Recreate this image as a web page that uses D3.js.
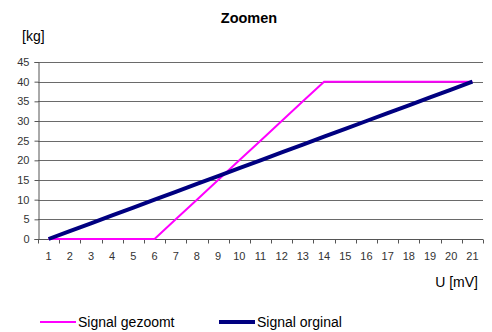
<!DOCTYPE html>
<html>
<head>
  <script src="https://d3js.org/d3.v7.min.js"></script>
  <style>
    body { margin: 0; background: #fff; font-family: Arial, 'Liberation Sans', sans-serif; }
    .grid line { stroke: #6a6a6a; stroke-width: 1px; }
  </style>
</head>
<body>
  <div id="chart"></div>
  <script>
    // data
    const categories = d3.range(1, 22); // U [mV] 1..21
    const yTicks = [0, 5, 10, 15, 20, 25, 30, 35, 40, 45];
    const zoomed = [0, 0, 0, 0, 0, 0, 5, 10, 15, 20, 25, 30, 35, 40, 40, 40, 40, 40, 40, 40, 40];
    const original = [0, 2, 4, 6, 8, 10, 12, 14, 16, 18, 20, 22, 24, 26, 28, 30, 32, 34, 36, 38, 40];

    const width = 492, height = 332;
    const margin = { top: 62, right: 9, bottom: 93, left: 38 };

    const svg = d3.select("#chart").append("svg")
      .attr("width", width)
      .attr("height", height);

    const x = d3.scaleBand()
      .domain(categories)
      .range([margin.left, width - margin.right]);

    const y = d3.scaleLinear()
      .domain([0, 45])
      .range([height - margin.bottom, margin.top]);

    // gridlines
    svg.append("g").attr("class", "grid")
      .selectAll("line")
      .data(yTicks.filter(d => d > 0))
      .enter().append("line")
      .attr("x1", margin.left)
      .attr("x2", width - margin.right)
      .attr("y1", d => Math.round(y(d)) + 0.5)
      .attr("y2", d => Math.round(y(d)) + 0.5);

    // y axis
    const yAxis = svg.append("g")
      .attr("transform", `translate(${margin.left + 0.5},0)`)
      .call(d3.axisLeft(y).tickValues(yTicks).tickSize(4).tickPadding(5));
    yAxis.select(".domain").attr("stroke", "#555");
    yAxis.selectAll(".tick line").attr("stroke", "#555");
    yAxis.selectAll("text").style("font-size", "11px").style("font-family", "Arial, 'Liberation Sans', sans-serif").attr("fill", "#333");

    // x axis (ticks at category boundaries)
    const xBase = Math.round(y(0)) + 0.5;
    const xg = svg.append("g");
    xg.append("line")
      .attr("x1", margin.left).attr("x2", width - margin.right)
      .attr("y1", xBase).attr("y2", xBase)
      .attr("stroke", "#555");
    const bounds = categories.map(c => x(c)).concat([x(21) + x.bandwidth()]);
    xg.selectAll(".bt")
      .data(bounds)
      .enter().append("line")
      .attr("x1", d => Math.round(d) + 0.5)
      .attr("x2", d => Math.round(d) + 0.5)
      .attr("y1", xBase)
      .attr("y2", xBase + 4)
      .attr("stroke", "#555");
    xg.selectAll("text")
      .data(categories)
      .enter().append("text")
      .attr("x", d => x(d) + x.bandwidth() / 2)
      .attr("y", xBase + 20)
      .attr("text-anchor", "middle")
      .style("font-size", "11px")
      .attr("fill", "#333")
      .text(d => d);

    const line = d3.line()
      .x((d, i) => x(categories[i]) + x.bandwidth() / 2)
      .y(d => y(d));

    svg.append("path")
      .datum(zoomed)
      .attr("fill", "none")
      .attr("stroke", "#ff00ff")
      .attr("stroke-width", 2)
      .attr("d", line);

    svg.append("path")
      .datum(original)
      .attr("fill", "none")
      .attr("stroke", "#000080")
      .attr("stroke-width", 4)
      .attr("stroke-linejoin", "round")
      .attr("d", line);

    // titles
    svg.append("text")
      .attr("x", 249).attr("y", 23)
      .attr("text-anchor", "middle")
      .style("font-size", "14.5px").style("font-weight", "bold")
      .text("Zoomen");

    svg.append("text")
      .attr("x", 22).attr("y", 41)
      .style("font-size", "14px")
      .text("[kg]");

    svg.append("text")
      .attr("x", 478).attr("y", 287)
      .attr("text-anchor", "end")
      .style("font-size", "14px")
      .text("U [mV]");

    // legend
    const legend = [
      { name: "Signal gezoomt", color: "#ff00ff", w: 2, x: 40 },
      { name: "Signal orginal", color: "#000080", w: 4, x: 219 }
    ];
    const lg = svg.selectAll(".leg").data(legend).enter().append("g");
    lg.append("line")
      .attr("x1", d => d.x).attr("x2", d => d.x + 36)
      .attr("y1", 322).attr("y2", 322)
      .attr("stroke", d => d.color)
      .attr("stroke-width", d => d.w);
    lg.append("text")
      .attr("x", d => d.x + 38).attr("y", 327)
      .style("font-size", "14px")
      .text(d => d.name);
  </script>
</body>
</html>
